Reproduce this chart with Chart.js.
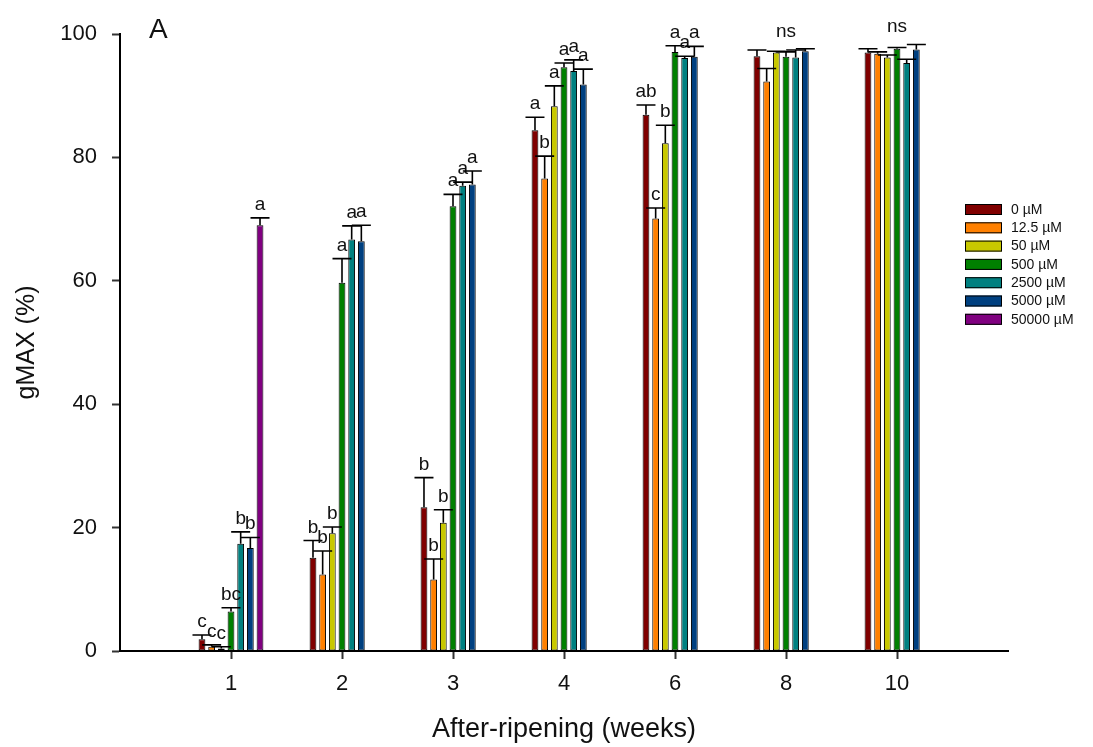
<!DOCTYPE html>
<html>
<head>
<meta charset="utf-8">
<script src="https://cdn.jsdelivr.net/npm/chart.js@4"></script>
<style>
  body { margin: 0; background: #fff; }
  #wrap { width: 1093px; height: 747px; position: relative; }
</style>
</head>
<body>
<div id="wrap"><canvas id="chart"></canvas></div>
<script>
// After-ripening weeks (x categories)
const weeks = ['1', '2', '3', '4', '6', '8', '10'];
const concLabels = ['0 µM', '12.5 µM', '50 µM', '500 µM', '2500 µM', '5000 µM', '50000 µM'];
const concColors = ['#800000', '#ff8000', '#c8c800', '#008000', '#008080', '#004080', '#800080'];

// gMAX means (%)
const mean0 = [1.9, 15.1, 23.3, 84.4, 86.9, 96.4, 97.0];
const mean12 = [0.7, 12.4, 11.6, 76.6, 70.1, 92.3, 96.8];
const mean50 = [0.4, 19.1, 20.8, 88.3, 82.3, 97.0, 96.2];
const mean500 = [6.4, 59.7, 72.1, 94.6, 97.1, 96.3, 97.6];
const mean2500 = [17.4, 66.7, 75.4, 94.0, 96.1, 96.2, 95.3];
const mean5000 = [16.7, 66.4, 75.6, 91.8, 96.3, 97.2, 97.5];
const mean50000 = [69.0, null, null, null, null, null, null];

// upper error (SE)
const err0 = [0.7, 2.8, 4.8, 2.1, 1.6, 1.0, 0.6];
const err12 = [0.3, 3.8, 3.3, 3.6, 1.7, 2.1, 0.3];
const err50 = [0.3, 1.0, 2.1, 3.3, 2.9, 0.2, 0.4];
const err500 = [0.6, 3.9, 1.9, 0.7, 1.0, 0.8, 0.2];
const err2500 = [1.9, 2.2, 0.6, 1.8, 0.3, 1.2, 0.6];
const err5000 = [1.7, 2.6, 2.2, 2.5, 1.7, 0.4, 0.8];
const err50000 = [1.2, null, null, null, null, null, null];

// significance letters
const let0 = ['c', 'b', 'b', 'a', 'ab', '', ''];
const let12 = ['c', 'b', 'b', 'b', 'c', '', ''];
const let50 = ['c', 'b', 'b', 'a', 'b', '', ''];
const let500 = ['bc', 'a', 'a', 'a', 'a', '', ''];
const let2500 = ['b', 'a', 'a', 'a', 'a', '', ''];
const let5000 = ['b', 'a', 'a', 'a', 'a', '', ''];
const let50000 = ['a', '', '', '', '', '', ''];
const groupNotes = ['', '', '', '', '', 'ns', 'ns'];

const yTicks = [0, 20, 40, 60, 80, 100];

const FONT = "'Liberation Sans', Arial, Helvetica, sans-serif";

// blank slot at each end of the axis
const pad = arr => [null, ...arr, null];
const xLabels = pad(weeks).map(v => v === null ? '' : v);

const means = [mean0, mean12, mean50, mean500, mean2500, mean5000, mean50000];
const errs = [err0, err12, err50, err500, err2500, err5000, err50000];
const letters = [let0, let12, let50, let500, let2500, let5000, let50000];

const datasets = means.map((m, i) => ({
    label: concLabels[i],
    data: pad(m),
    errors: pad(errs[i]),
    letters: pad(letters[i]),
    backgroundColor: concColors[i],
    borderColor: '#000',
    borderWidth: 1,
    borderSkipped: false,
    categoryPercentage: 0.61,
    barPercentage: 0.7
}));

const errorBars = {
    id: 'errorBars',
    afterDatasetsDraw(chart) {
        const ctx = chart.ctx;
        const y = chart.scales.y;
        const capTops = {};
        ctx.save();
        ctx.strokeStyle = '#000';
        ctx.lineWidth = 1.6;
        ctx.fillStyle = '#111';
        ctx.font = '19px ' + FONT;
        ctx.textAlign = 'center';
        ctx.textBaseline = 'alphabetic';
        chart.data.datasets.forEach((ds, di) => {
            const meta = chart.getDatasetMeta(di);
            meta.data.forEach((bar, i) => {
                const v = ds.data[i];
                if (v === null || v === undefined) return;
                const top = y.getPixelForValue(v + (ds.errors[i] || 0));
                ctx.beginPath();
                ctx.moveTo(bar.x, bar.y);
                ctx.lineTo(bar.x, top);
                ctx.moveTo(bar.x - 9.5, top);
                ctx.lineTo(bar.x + 9.5, top);
                ctx.stroke();
                if (ds.letters[i]) ctx.fillText(ds.letters[i], bar.x, top - 8);
                capTops[i] = Math.min(capTops[i] === undefined ? Infinity : capTops[i], top);
            });
        });
        const notes = pad(groupNotes);
        notes.forEach((n, i) => {
            if (!n) return;
            const x = chart.scales.x.getPixelForValue(i);
            ctx.fillText(n, x, capTops[i] - 12);
        });
        ctx.restore();
    }
};

const sideLegend = {
    id: 'sideLegend',
    afterDraw(chart) {
        const ctx = chart.ctx;
        ctx.save();
        ctx.font = '14px ' + FONT;
        ctx.textBaseline = 'middle';
        ctx.textAlign = 'left';
        chart.data.datasets.forEach((ds, i) => {
            const top = 204 + i * 18.3;
            ctx.fillStyle = ds.backgroundColor;
            ctx.fillRect(965, top, 37, 11);
            ctx.strokeStyle = '#000';
            ctx.lineWidth = 1;
            ctx.strokeRect(965.5, top + 0.5, 36, 10);
            ctx.fillStyle = '#111';
            ctx.fillText(ds.label, 1011, top + 6);
        });
        // panel letter
        ctx.font = '28px ' + FONT;
        ctx.textBaseline = 'alphabetic';
        ctx.fillText('A', 149, 38);
        ctx.restore();
    }
};

new Chart(document.getElementById('chart'), {
    type: 'bar',
    data: { labels: xLabels, datasets },
    options: {
        responsive: true,
        maintainAspectRatio: false,
        animation: false,
        layout: { padding: { left: 0, top: 34, right: 85, bottom: 0 } },
        plugins: {
            legend: { display: false },
            tooltip: { enabled: false }
        },
        scales: {
            x: {
                type: 'category',
                offset: false,
                grid: {
                    offset: false,
                    drawOnChartArea: false,
                    drawTicks: true,
                    tickLength: 8,
                    tickWidth: 2,
                    tickColor: c => (xLabels[c.index] ? '#333' : 'rgba(0,0,0,0)')
                },
                border: { color: '#000', width: 2 },
                ticks: {
                    autoSkip: false,
                    maxRotation: 0,
                    padding: 12,
                    color: '#111',
                    font: { family: FONT, size: 22 }
                },
                title: {
                    display: true,
                    text: 'After-ripening (weeks)',
                    color: '#111',
                    font: { family: FONT, size: 27 },
                    padding: { top: 0, bottom: 1 }
                },
                afterFit(scale) { scale.height = 96; }
            },
            y: {
                min: 0,
                max: 100,
                afterBuildTicks(scale) { scale.ticks = yTicks.map(v => ({ value: v })); },
                grid: {
                    drawOnChartArea: false,
                    drawTicks: true,
                    tickLength: 8,
                    tickWidth: 2,
                    tickColor: '#333'
                },
                border: { color: '#000', width: 2 },
                ticks: {
                    padding: 15,
                    color: '#111',
                    font: { family: FONT, size: 22 }
                },
                title: {
                    display: true,
                    text: 'gMAX (%)',
                    color: '#111',
                    font: { family: FONT, size: 25 },
                    padding: { top: 12, bottom: 0 }
                },
                afterFit(scale) { scale.width = 120; }
            }
        }
    },
    plugins: [errorBars, sideLegend]
});
</script>
</body>
</html>
